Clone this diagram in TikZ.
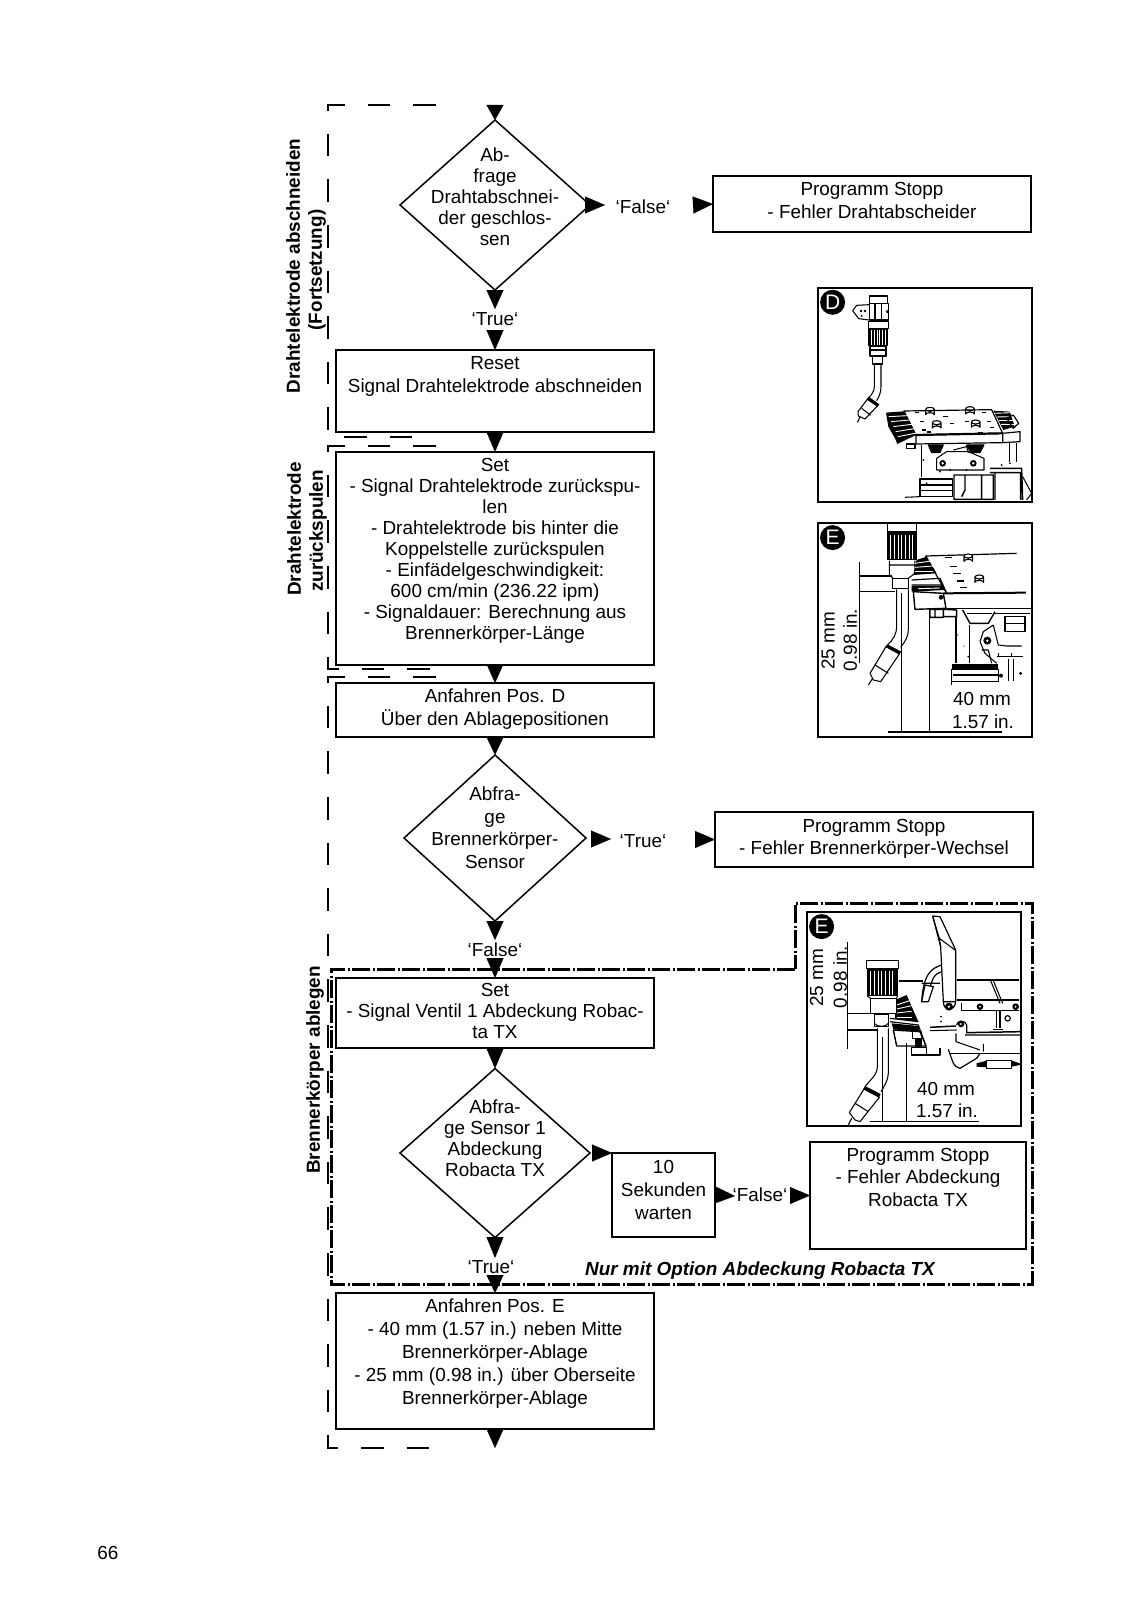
\documentclass[tikz,border=0pt]{standalone}
\usepackage{fontspec}
\setmainfont{Liberation Sans}
\usetikzlibrary{arrows.meta,shapes.geometric}
\newcommand\fs{\fontsize{18.9}{21}\selectfont}
\newcommand\tb[5]{\parbox[c][#2pt][t]{#1pt}{\centering\setlength{\baselineskip}{#4pt}\setlength{\lineskip}{0pt}\setlength{\lineskiplimit}{-20pt}\rule{0pt}{#3pt}#5\par}}
\newcommand\dt[3]{\raisebox{#1pt}[0pt][0pt]{\makebox[0pt]{\parbox{220pt}{\centering\setlength{\baselineskip}{#2pt}\setlength{\lineskip}{0pt}\setlength{\lineskiplimit}{-20pt}#3\par}}}}
\newcommand\knurl[5]{\fill[black] (#1,#2) rectangle (#3,#4); \foreach \kk in {#5} \draw[white,line width=.9pt] (\kk,#2+5) -- (\kk,#4-3);}
\newcommand\stud[2]{\draw[fill=white,line width=1.1pt] (#1-13,#2-12) -- (#1-13,#2+4) arc[start angle=180,end angle=360,x radius=13,y radius=6] -- (#1+13,#2-12) arc[start angle=0,end angle=360,x radius=13,y radius=6];}
\tikzset{
 box/.style={draw,line width=1.5pt,inner sep=0pt,outer sep=0pt,font=\fs,fill=white},
 dec/.style={draw,shape=diamond,line width=1.5pt,inner sep=0pt,outer sep=0pt,font=\fs,aspect=1.1},
 lab/.style={font=\fs,inner sep=0pt,outer sep=0pt},
 side/.style={font=\fs\bfseries,inner sep=0pt,outer sep=0pt,rotate=90,align=center},
 head/.style={-{Triangle[length=#1,width=17pt]},line width=.2pt,black},
 sect/.style={line width=1.5pt,dash pattern=on 22.6pt off 23pt},
 optframe/.style={line width=3pt,dash pattern=on 18pt off 2.5pt on 2pt off 2.5pt},
 art/.style={line width=1.05pt,line join=round},
 badge/.style={circle,fill=black,text=white,inner sep=0pt,outer sep=0pt,minimum size=25pt,font=\fontsize{21}{21}\selectfont},
 frm/.style={draw,line width=1.5pt,inner sep=0pt,outer sep=0pt},
 dimt/.style={font=\fs,inner sep=0pt,outer sep=0pt},
}
\begin{document}
\begin{tikzpicture}[x=1pt,y=-1pt]
\useasboundingbox[fill=white] (0,0) rectangle (1132,1600);
% section outlines
\draw[sect] (436,105) -- (328,105) -- (328,437) -- (420,437);
\draw[sect] (436,446) -- (328,446) -- (328,669) -- (436,669);
\draw[sect] (436,677) -- (328,677) -- (328,1448) -- (436,1448);
% option frame
\draw[optframe] (795,969) -- (331,969) -- (331,1284) -- (1032,1284) -- (1032,903) -- (795,903) -- cycle;
% side labels
\node[side] (s1) at (293,266) {Drahtelektrode abschneiden};
\node[side] (s2) at (317,270) {(Fortsetzung)};
\node[side] (s3) at (294,529) {Drahtelektrode};
\node[side] (s4) at (318,531) {zurückspulen};
\node[side] (s5) at (315,1070) {Brennerkörper ablegen};
% flow
\node[dec,minimum width=190pt,minimum height=170pt] (d1) at (495,205) {\dt{3.5}{21}{Ab-\\frage\\Drahtabschnei-\\der geschlos-\\sen}};
\node[box] (stop1) at (872,204) {\tb{318}{56}{19.5}{23}{Programm Stopp\\- Fehler Drahtabscheider}};
\node[box] (reset) at (495,391) {\tb{318}{82}{19}{23}{Reset\\Signal Drahtelektrode abschneiden}};
\node[box] (set1) at (495,558.5) {\tb{318}{213}{19}{21}{Set\\- Signal Drahtelektrode zurückspu-\\len\\- Drahtelektrode bis hinter die\\Koppelstelle zurückspulen\\- Einfädelgeschwindigkeit:\\600 cm/min (236.22 ipm)\\- Signaldauer: Berechnung aus\\Brennerkörper-Länge}};
\node[box] (anfd) at (495,710) {\tb{318}{54}{19}{23}{Anfahren Pos. D\\Über den Ablagepositionen}};
\node[dec,minimum width=182pt,minimum height=166pt] (d2) at (495,838) {\dt{6}{22.5}{Abfra-\\ge\\Brennerkörper-\\Sensor}};
\node[box] (stop2) at (874,839.5) {\tb{318}{55}{20}{22.5}{Programm Stopp\\- Fehler Brennerkörper-Wechsel}};
\node[box] (set2) at (495,1013) {\tb{318}{70}{18.5}{21}{Set\\- Signal Ventil 1 Abdeckung Robac-\\ta TX}};
\node[dec,minimum width=190pt,minimum height=169pt] (d3) at (495,1153) {\dt{10}{21}{Abfra-\\ge Sensor 1\\Abdeckung\\Robacta TX}};
\node[box] (wait) at (663.5,1195) {\tb{103}{84}{20}{23}{10\\Sekunden\\warten}};
\node[box] (stop3) at (918,1195.5) {\tb{216}{107}{19}{22.5}{Programm Stopp\\- Fehler Abdeckung\\Robacta TX}};
\node[box] (anfe) at (495,1361) {\tb{318}{136}{19}{23}{Anfahren Pos. E\\- 40 mm (1.57 in.) neben Mitte\\Brennerkörper-Ablage\\- 25 mm (0.98 in.) über Oberseite\\Brennerkörper-Ablage}};
% labels
\node[lab] (lf1) at (643,207) {‘False‘};
\node[lab] (lt1) at (495,319) {‘True‘};
\node[lab] (lt2) at (643,841) {‘True‘};
\node[lab] (lf2) at (495,950) {‘False‘};
\node[lab] (lf3) at (760,1195) {‘False‘};
\node[lab] (lt3) at (491,1267) {‘True‘};
\node[font=\fs\bfseries\itshape,inner sep=0pt] (opttxt) at (760,1271) {Nur mit Option Abdeckung Robacta TX};
\node[lab] (page) at (108,1553) {66};
% arrowheads
\coordinate (c0) at (495,105);
\coordinate (c1) at (495,309);
\coordinate (c2) at (495,330);
\coordinate (c3) at (605,205);
\coordinate (c4) at (693,205);
\coordinate (c5) at (611,839);
\coordinate (c6) at (695,839.5);
\coordinate (c7) at (495,940);
\coordinate (c8) at (495,958);
\coordinate (c9) at (612,1153);
\coordinate (c10) at (735,1196);
\coordinate (c11) at (790,1195.5);
\coordinate (c12) at (495,1258);
\coordinate (c13) at (495,1275);
\coordinate (c14) at (495,1448);
\draw[head=15pt] (c0) -- (d1.north);
\draw[head=19pt] (d1.south) -- (c1);
\draw[head=20pt] (c2) -- (reset.north);
\draw[head=20pt] (reset.south) -- (set1.north);
\draw[head=19pt] (set1.south) -- (anfd.north);
\draw[head=18pt] (anfd.south) -- (d2.north);
\draw[head=19pt] (d2.south) -- (c7);
\draw[head=20pt] (c8) -- (set2.north);
\draw[head=20pt] (set2.south) -- (d3.north);
\draw[head=21pt] (d3.south) -- (c12);
\draw[head=18pt] (c13) -- (anfe.north);
\draw[head=19pt] (anfe.south) -- (c14);
\draw[head=20pt] (d1.east)++(-5,0) coordinate (e1) (e1) -- (c3);
\draw[head=20pt] (c4) -- (stop1.west);
\draw[head=20pt] (d2.east)++(5,1) coordinate (e2) (e2) -- (c5);
\draw[head=20pt] (c6) -- (stop2.west);
\draw[head=20pt] (d3.east)++(2,0) coordinate (e3) (e3) -- (c9);
\draw[head=20pt] (wait.east) -- (c10);
\draw[head=20pt] (c11) -- (stop3.west);

% ---------- picture D
\begin{scope}[shift={(780,270)},x=.3333pt,y=-.3333pt,art]
\draw (268,100) -- (268,78) -- (322,78) -- (322,100);
\draw (268,100) rectangle (325,150) (285,100) -- (285,150) (305,100) -- (305,150);
\draw (268,104) -- (230,106) -- (218,122) -- (236,146) -- (268,150);
\fill (243,123) circle (4) (255,123) circle (4) (322,125) circle (5) (245,138) circle (3);
\draw (265,155) rectangle (325,175);
\knurl{265}{175}{325}{228}{275,283,291,299,307,315}
\draw (270,230) rectangle (318,258) (270,240) -- (318,240);
\draw[line width=1.4pt] (278,258) rectangle (308,282);
\draw (283,282) -- (283,350) .. controls (283,365) and (275,372) .. (266,385);
\draw (303,282) -- (303,350) .. controls (303,365) and (298,380) .. (290,392);
\fill (266,380) -- (298,403) -- (293,410) -- (260,388) -- cycle;
\draw (262,388) -- (292,408) -- (255,447) -- (235,438) -- (234,425) -- cycle;
\draw (245,415) -- (272,436);
\draw (232,457) -- (240,442);
% table
\draw[line width=1.2pt] (372,423) -- (635,419) -- (668,490) -- (408,495) -- cycle;
\draw[line width=2.2pt] (408,495) -- (668,490);
\draw[line width=1.2pt] (408,495) -- (408,522) -- (668,518) -- (668,490);
\fill (318,428) -- (372,424) -- (408,495) -- (352,522) -- (345,505) -- (325,470) -- cycle;
\foreach \i in {0,1,2,3,4} \draw[white,line width=.9pt] (326+\i*7,440+\i*15) -- (382+\i*7,437+\i*13);
\fill (640,422) -- (690,425) -- (704,470) -- (670,480) -- cycle;
\foreach \i in {0,1,2,3} \draw[white,line width=.9pt] (642+\i*7,430+\i*11) -- (695+\i*3,428+\i*12);
\draw[line width=1.2pt,fill=white] (668,490) -- (720,485) -- (720,515) -- (668,518) -- cycle;
\stud{450}{430}\stud{570}{428}\stud{470}{470}\stud{587}{468}
\foreach \a/\b in {405/428,420/455,490/440,510/460,555/455,425/480,605/428,620/455,630/472,440/486,595/488} \draw[line width=1.4pt] (\a,\b) -- (\a+13,\b);
\draw[line width=1.2pt] (680,445) -- (700,435) -- (716,460) -- (700,475) -- cycle;
% lower machine
\draw (425,525) -- (425,620) (688,520) -- (688,575) (710,520) -- (710,575);
\draw[line width=1.2pt] (380,522) rectangle (405,535);
\draw[fill=black] (445,525) -- (490,525) -- (480,548) -- (455,548) -- cycle;
\draw[fill=black] (560,525) -- (612,525) -- (600,548) -- (572,548) -- cycle;
\draw (470,565) -- (500,545) -- (565,545) -- (612,565) -- (612,600) -- (470,600) -- cycle;
\draw (520,540) -- (560,530) -- (565,548);
\fill (488,580) circle (10) (580,580) circle (10);
\fill[white] (488,580) circle (4) (580,580) circle (4);
\draw[line width=1.2pt] (420,627) rectangle (518,680) (420,645) -- (518,645) (420,662) -- (518,662);
\draw[line width=1.4pt] (522,615) rectangle (640,688) (605,615) -- (605,688) (555,615) -- (555,660) -- (545,680);
\draw[line width=1.4pt] (630,595) -- (725,595) -- (728,690) (630,608) -- (725,608) (645,608) -- (645,690) (722,608) -- (722,690);
\draw (728,620) -- (755,670) -- (740,690);
\draw (375,682) -- (420,680);
\foreach \a/\b in {430/570,440/640,480/605,510/600,560/600,665/585,690/580} \fill (\a,\b) circle (3);
\end{scope}
\node[frm,minimum width=214pt,minimum height=214pt] (picd) at (925,395) {};
\node[badge] (bd) at (832.6,302.3) {D};

% ---------- picture E
\begin{scope}[shift={(780,510)},x=.3333pt,y=-.3333pt,art]
\draw (322,42) -- (322,65) (410,42) -- (410,65) (320,66) -- (412,66);
\knurl{320}{70}{412}{150}{332,343,354,365,376,387,398}
\draw (328,152) -- (328,195) -- (340,205) (405,152) -- (405,190) -- (385,205) (328,165) -- (405,165);
\draw[line width=1.4pt] (338,205) rectangle (385,235);
\draw (350,238) -- (350,350) .. controls (350,370) and (340,390) .. (322,405);
\draw (385,238) -- (385,360) .. controls (385,380) and (375,395) .. (362,412);
\fill (322,403) -- (364,425) -- (358,433) -- (316,410) -- cycle;
\draw (318,410) -- (358,432) -- (302,515) -- (280,510) -- (270,490) -- cycle;
\draw (285,465) -- (325,490);
\draw (265,525) -- (278,505);
% dims
\draw (240,198) -- (335,198) (240,245) -- (345,245) (238,157) -- (238,460);
\draw (365,250) -- (365,668) (448,255) -- (448,668) (325,666) -- (665,666);
\foreach \a in {185,195,248,258} \fill (238,\a) circle (2);
\foreach \a in {355,455} \fill (\a,666) circle (2);
% table
\draw[line width=1.2pt] (710,130) -- (437,138) -- (500,250);
\draw[line width=2pt] (490,250) -- (738,248);
\draw[line width=1.2pt] (500,295) -- (755,295);
\fill (410,150) -- (440,140) -- (470,190) -- (400,195) -- cycle;
\foreach \i in {0,1,2} \draw[white,line width=.9pt] (405,160+\i*12) -- (460,152+\i*16);
\draw[line width=1.2pt] (395,210) -- (480,205) -- (500,250) (395,225) -- (490,225);
\fill (395,228) -- (490,228) -- (495,240) -- (395,245) -- cycle;
\draw[white,line width=.9pt] (415,236) -- (480,234);
\draw[line width=1.4pt,fill=white] (400,245) -- (490,250) -- (498,295) -- (405,298) -- cycle;
\fill (483,262) circle (7);
\draw[line width=1.4pt] (450,298) rectangle (490,322) (465,298) -- (465,322) (490,298) -- (530,300) -- (530,320) -- (490,320);
\stud{565}{150}\stud{598}{213}
\foreach \a/\b in {495/143,510/170,520/190,530/213,540/233} \draw[line width=1.5pt] (\a,\b) -- (\a+22,\b);
% lower
\draw[line width=1.4pt] (548,300) -- (570,340) -- (625,340) -- (645,305);
\draw (560,310) -- (635,310);
\draw (528,320) -- (528,460) (568,345) -- (568,458);
\draw (640,345) -- (655,405) -- (680,408) -- (725,408);
\draw (600,395) -- (610,365) -- (640,345) (600,395) -- (615,430) -- (650,460);
\fill (622,392) circle (12);
\fill[white] (622,392) circle (4);
\draw (605,420) -- (625,420) -- (635,460);
\draw[line width=1.2pt] (675,320) rectangle (735,365) (675,340) -- (735,340);
\draw (640,310) -- (750,310);
\draw (655,440) -- (655,430) (695,440) -- (695,430) (650,440) -- (730,440);
\fill (515,462) rectangle (655,478);
\draw[line width=1.2pt] (515,478) -- (515,525) (515,478) rectangle (655,515);
\draw (520,495) -- (655,495);
\fill (663,497) circle (6) (722,490) circle (5) (533,375) circle (2) (552,408) circle (2) (565,440) circle (3);
\draw[line width=1.5pt] (685,448) -- (685,512) (700,448) -- (700,512);
\end{scope}
\node[frm,minimum width=214pt,minimum height=214pt] (pice) at (925,630) {};
\node[badge] (be) at (832.6,537.6) {E};
\node[dimt,rotate=90] (e25) at (828,641) {25 mm};
\node[dimt,rotate=90] (e098) at (850,640) {0.98 in.};
\node[dimt] (e40) at (982,699) {40 mm};
\node[dimt] (e157) at (983,722) {1.57 in.};

% ---------- picture E second
\begin{scope}[shift={(780,890)},x=.3333pt,y=-.3333pt,art]
% hood
\draw[line width=1.2pt,fill=white] (458,78) -- (480,80) -- (527,180) -- (527,335) -- (490,335) -- (482,170) -- cycle;
\draw (458,78) -- (478,145) -- (482,170) (478,145) -- (525,180);
\draw[line width=1.2pt] (490,335) .. controls (490,365) and (525,365) .. (527,335);
\fill (507,350) circle (12); \fill[white] (507,350) circle (4);
\draw[line width=1.2pt] (485,225) .. controls (455,235) and (430,250) .. (425,335) (485,245) .. controls (465,250) and (450,265) .. (445,335);
\draw[line width=1.2pt,fill=white] (425,280) -- (480,280) (425,335) -- (435,285) -- (460,290) -- (445,335) -- cycle;
\draw[line width=1.4pt] (357,273) -- (430,273);
\draw[line width=1.2pt] (530,270) -- (718,270) (530,330) -- (718,330);
\draw (632,272) -- (660,340) (640,272) -- (668,340);
\draw (545,338) -- (545,362) -- (718,362);
\foreach \a in {600,707} {\fill (\a,350) circle (10); \fill[white] (\a,350) circle (3);}
\fill (483,380) circle (3) (483,395) circle (3);
\draw[line width=1.4pt] (650,362) -- (650,415) (660,362) -- (660,415);
\draw[line width=1.2pt] (640,418) -- (670,418);
\draw[line width=1.2pt] (683,385) circle (8);
\draw[line width=1.5pt] (450,412) -- (528,408);
\draw (450,422) -- (530,420);
\draw[line width=1.2pt] (530,405) .. controls (530,390) and (558,390) .. (560,405) -- (560,430);
\fill (543,402) circle (10); \fill[white] (543,402) circle (3);
\draw[line width=1.5pt] (560,428) -- (722,425);
\draw (528,430) -- (528,455) -- (600,480) (555,435) -- (722,435) (610,462) -- (610,485);
\draw[line width=1.2pt] (505,478) .. controls (520,520) and (520,530) .. (540,535) -- (590,505) -- (600,490);
\draw (510,490) -- (722,490);
\draw[line width=1.2pt] (620,512) rectangle (695,535);
\fill (590,520) -- (620,512) -- (620,532) -- (590,530) -- cycle;
\fill (695,512) -- (720,520) -- (720,525) -- (695,530) -- cycle;
\draw[line width=1.2pt] (395,472) rectangle (440,495) (480,475) -- (480,495) -- (400,495);
% teeth
\fill (345,330) -- (380,315) -- (415,395) -- (345,385) -- cycle;
\foreach \i in {0,1,2,3} \draw[white,line width=.9pt] (350,345+\i*12) -- (395,330+\i*17);
\draw[line width=1.2pt] (330,395) -- (415,405) -- (438,470) (330,385) -- (415,395);
\fill (335,400) -- (415,408) -- (420,425) -- (340,418) -- cycle;
\draw[line width=1.4pt,fill=white] (340,420) -- (420,425) -- (438,468) -- (350,468) -- cycle;
\draw[line width=1.2pt] (398,425) rectangle (425,445); \fill (405,445) rectangle (425,470);
% torch
\draw[line width=1.2pt] (260,212) -- (355,212) -- (355,235) -- (260,235) -- cycle;
\knurl{260}{238}{355}{318}{272,283,294,305,316,327,338}
\draw[line width=1.4pt,fill=white] (272,325) rectangle (350,370);
\draw (262,318) -- (272,325) (352,318) -- (350,325);
\draw[line width=1.4pt] (283,372) rectangle (325,410);
\draw (283,400) .. controls (290,412) and (318,412) .. (325,400);
\draw (292,415) -- (292,530) .. controls (292,555) and (270,570) .. (255,590);
\draw (325,415) -- (325,550) .. controls (325,570) and (312,590) .. (303,605);
\fill (255,588) -- (302,612) -- (297,622) -- (250,597) -- cycle;
\draw (252,597) -- (298,622) -- (240,695) -- (225,690) -- (208,668) -- cycle;
\draw (225,640) -- (265,665);
\draw (205,705) -- (215,685);
% dims
\draw (203,370) -- (280,370) (203,420) -- (290,420) (202,157) -- (202,478);
\draw (307,440) -- (307,696) (380,460) -- (380,696) (270,694) -- (598,694);
\foreach \a in {355,430} \fill (202,\a) circle (2);
\foreach \a in {295,392} \fill (\a,694) circle (2);
\end{scope}
\node[frm,minimum width=214pt,minimum height=214pt] (pice2) at (914,1019) {};
\node[badge] (be2) at (821.6,926.6) {E};
\node[dimt,rotate=90] (f25) at (816.5,978) {25 mm};
\node[dimt,rotate=90] (f098) at (840,977) {0.98 in.};
\node[dimt] (f40) at (946,1089) {40 mm};
\node[dimt] (f157) at (947,1111) {1.57 in.};
\end{tikzpicture}
\end{document}
